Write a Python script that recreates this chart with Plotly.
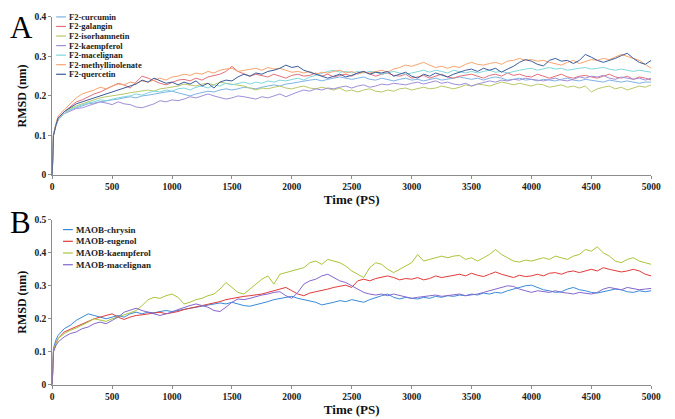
import plotly.graph_objects as go

time_ps = [0, 10, 30] + list(range(50, 5001, 50))

# ---------------- Panel A (F2) ----------------
a_names = ["F2-curcumin", "F2-galangin", "F2-isorhamnetin", "F2-kaempferol",
           "F2-macelignan", "F2-methyllinolenate", "F2-quercetin"]
a_colors = ["#7fb2e5", "#e0707a", "#b8c868", "#a08ed8", "#7fd6dc", "#f5a46e", "#3b5b9a"]

a_curcumin = [0.0, 0.10, 0.125,
    0.14, 0.155, 0.165, 0.17, 0.175, 0.18, 0.182, 0.185, 0.188, 0.19,
    0.192, 0.195, 0.198, 0.195, 0.2, 0.202, 0.205, 0.208, 0.21, 0.212,
    0.208, 0.205, 0.2, 0.205, 0.208, 0.212, 0.21, 0.215, 0.218, 0.215,
    0.218, 0.222, 0.22, 0.218, 0.222, 0.225, 0.228, 0.225, 0.23, 0.232,
    0.235, 0.238, 0.24, 0.242, 0.238, 0.242, 0.245, 0.248, 0.245, 0.242,
    0.245, 0.248, 0.242, 0.24, 0.245, 0.242, 0.238, 0.242, 0.245, 0.24,
    0.242, 0.238, 0.242, 0.245, 0.24, 0.242, 0.245, 0.248, 0.245, 0.242,
    0.245, 0.24, 0.245, 0.248, 0.245, 0.24, 0.242, 0.245, 0.24, 0.242,
    0.238, 0.242, 0.24, 0.238, 0.242, 0.245, 0.24, 0.238, 0.242, 0.24,
    0.238, 0.235, 0.24, 0.238, 0.235, 0.238, 0.235, 0.232, 0.235, 0.235]
a_galangin = [0.0, 0.10, 0.125,
    0.14, 0.16, 0.172, 0.185, 0.19, 0.198, 0.205, 0.21, 0.218, 0.225,
    0.232, 0.228, 0.22, 0.235, 0.25, 0.245, 0.238, 0.232, 0.228, 0.235,
    0.24, 0.242, 0.238, 0.245, 0.24, 0.248, 0.252, 0.255, 0.262, 0.275,
    0.262, 0.255, 0.25, 0.255, 0.252, 0.248, 0.255, 0.25, 0.245, 0.252,
    0.255, 0.25, 0.252, 0.258, 0.25, 0.255, 0.248, 0.252, 0.255, 0.25,
    0.258, 0.262, 0.255, 0.25, 0.255, 0.258, 0.252, 0.25, 0.255, 0.245,
    0.248, 0.252, 0.245, 0.25, 0.255, 0.248, 0.245, 0.25, 0.252, 0.255,
    0.25, 0.245, 0.252, 0.255, 0.25, 0.258, 0.252, 0.255, 0.25, 0.248,
    0.255, 0.25, 0.245, 0.25, 0.255, 0.248, 0.245, 0.25, 0.252, 0.248,
    0.245, 0.25, 0.255, 0.248, 0.245, 0.25, 0.242, 0.248, 0.245, 0.24]
a_isorhamnetin = [0.0, 0.10, 0.125,
    0.14, 0.155, 0.168, 0.175, 0.18, 0.185, 0.19, 0.195, 0.198, 0.2,
    0.202, 0.205, 0.208, 0.21, 0.212, 0.215, 0.212, 0.218, 0.22, 0.222,
    0.225, 0.23, 0.228, 0.225, 0.23, 0.232, 0.228, 0.235, 0.232, 0.23,
    0.228, 0.225, 0.22, 0.215, 0.22, 0.218, 0.222, 0.225, 0.22, 0.218,
    0.222, 0.225, 0.22, 0.218, 0.222, 0.218, 0.215, 0.22, 0.212, 0.215,
    0.21, 0.215, 0.218, 0.212, 0.21, 0.215, 0.212, 0.218, 0.22, 0.215,
    0.218, 0.222, 0.218, 0.22, 0.225, 0.222, 0.218, 0.222, 0.228, 0.225,
    0.23, 0.228, 0.225, 0.23, 0.235, 0.232, 0.228, 0.232, 0.228, 0.225,
    0.23, 0.228, 0.222, 0.225, 0.228, 0.222, 0.225, 0.22, 0.225, 0.21,
    0.218, 0.222, 0.225, 0.218, 0.222, 0.215, 0.22, 0.225, 0.222, 0.228]
a_kaempferol = [0.0, 0.10, 0.125,
    0.14, 0.155, 0.162, 0.168, 0.17, 0.175, 0.18, 0.185, 0.182, 0.178,
    0.185, 0.18, 0.178, 0.172, 0.17, 0.175, 0.18, 0.188, 0.185, 0.19,
    0.188, 0.192, 0.198, 0.195, 0.2, 0.205, 0.2, 0.195, 0.192, 0.195,
    0.2, 0.198, 0.195, 0.192, 0.198, 0.195, 0.2, 0.205, 0.198, 0.205,
    0.21, 0.215, 0.212, 0.218, 0.215, 0.22, 0.218, 0.222, 0.225, 0.22,
    0.225, 0.228, 0.222, 0.225, 0.23, 0.228, 0.232, 0.23, 0.228, 0.232,
    0.235, 0.23, 0.235, 0.238, 0.232, 0.235, 0.23, 0.228, 0.232, 0.225,
    0.23, 0.235, 0.238, 0.235, 0.24, 0.238, 0.242, 0.24, 0.245, 0.242,
    0.24, 0.238, 0.242, 0.245, 0.24, 0.238, 0.242, 0.248, 0.245, 0.25,
    0.248, 0.252, 0.245, 0.242, 0.248, 0.245, 0.242, 0.245, 0.24, 0.245]
a_macelignan = [0.0, 0.10, 0.125,
    0.14, 0.155, 0.165, 0.172, 0.178, 0.182, 0.185, 0.19, 0.188, 0.192,
    0.195, 0.198, 0.2, 0.205, 0.202, 0.208, 0.212, 0.21, 0.215, 0.212,
    0.218, 0.22, 0.215, 0.222, 0.225, 0.22, 0.228, 0.225, 0.232, 0.228,
    0.232, 0.235, 0.23, 0.235, 0.232, 0.238, 0.235, 0.24, 0.238, 0.242,
    0.245, 0.24, 0.248, 0.252, 0.258, 0.262, 0.265, 0.26, 0.262, 0.258,
    0.262, 0.258, 0.262, 0.26, 0.255, 0.258, 0.262, 0.258, 0.255, 0.258,
    0.262, 0.265, 0.26, 0.265, 0.262, 0.258, 0.265, 0.262, 0.258, 0.262,
    0.258, 0.262, 0.265, 0.26, 0.262, 0.258, 0.262, 0.265, 0.268, 0.27,
    0.265, 0.268, 0.272, 0.268, 0.27, 0.265, 0.268, 0.27, 0.272, 0.268,
    0.27, 0.272, 0.268, 0.265, 0.268, 0.265, 0.262, 0.265, 0.262, 0.26]
a_methyllinolenate = [0.0, 0.10, 0.13,
    0.15, 0.165, 0.18, 0.195, 0.205, 0.21, 0.215, 0.222, 0.218, 0.225,
    0.23, 0.228, 0.235, 0.232, 0.238, 0.235, 0.24, 0.245, 0.24, 0.248,
    0.25, 0.255, 0.252, 0.258, 0.255, 0.262, 0.258, 0.265, 0.268, 0.27,
    0.262, 0.265, 0.268, 0.27, 0.265, 0.272, 0.268, 0.27, 0.265, 0.26,
    0.262, 0.258, 0.262, 0.255, 0.26, 0.258, 0.262, 0.265, 0.258, 0.262,
    0.255, 0.26, 0.258, 0.262, 0.265, 0.26, 0.268, 0.272, 0.278, 0.275,
    0.28, 0.285, 0.278, 0.272, 0.275, 0.27, 0.275, 0.272, 0.28, 0.285,
    0.28, 0.278, 0.282, 0.285, 0.28, 0.288, 0.29, 0.295, 0.29, 0.292,
    0.288, 0.29, 0.285, 0.282, 0.278, 0.285, 0.29, 0.282, 0.288, 0.292,
    0.29, 0.295, 0.292, 0.298, 0.305, 0.3, 0.295, 0.29, 0.28, 0.27]
a_quercetin = [0.0, 0.10, 0.125,
    0.145, 0.16, 0.17, 0.18, 0.185, 0.19, 0.195, 0.2, 0.205, 0.21,
    0.215, 0.22, 0.225, 0.23, 0.24, 0.235, 0.245, 0.238, 0.232, 0.235,
    0.228, 0.235, 0.23, 0.238, 0.225, 0.232, 0.22, 0.235, 0.24, 0.238,
    0.248, 0.255, 0.25, 0.258, 0.255, 0.262, 0.265, 0.27, 0.278, 0.272,
    0.275, 0.265, 0.26, 0.255, 0.25, 0.245, 0.25, 0.255, 0.248, 0.252,
    0.258, 0.262, 0.255, 0.26, 0.258, 0.262, 0.25, 0.255, 0.26, 0.25,
    0.245, 0.255, 0.25, 0.258, 0.252, 0.248, 0.255, 0.26, 0.265, 0.268,
    0.262, 0.27, 0.265, 0.27, 0.26, 0.268, 0.275, 0.285, 0.292, 0.288,
    0.28, 0.276, 0.29, 0.295, 0.288, 0.29, 0.282, 0.29, 0.305, 0.298,
    0.29, 0.285, 0.29, 0.295, 0.302, 0.308, 0.295, 0.285, 0.28, 0.29]

a_series = [a_curcumin, a_galangin, a_isorhamnetin, a_kaempferol,
            a_macelignan, a_methyllinolenate, a_quercetin]

# ---------------- Panel B (MAOB) ----------------
b_names = ["MAOB-chrysin", "MAOB-eugenol", "MAOB-kaempferol", "MAOB-macelignan"]
b_colors = ["#3a8ad6", "#e03a3a", "#a8c43a", "#8466cc"]

b_chrysin = [0.0, 0.11, 0.135,
    0.15, 0.17, 0.18, 0.195, 0.205, 0.215, 0.21, 0.205, 0.2, 0.205,
    0.21, 0.205, 0.215, 0.22, 0.215, 0.22, 0.218, 0.222, 0.225, 0.222,
    0.225, 0.228, 0.232, 0.235, 0.238, 0.24, 0.245, 0.248, 0.245, 0.25,
    0.245, 0.24, 0.238, 0.242, 0.248, 0.252, 0.258, 0.262, 0.265, 0.268,
    0.262, 0.258, 0.255, 0.25, 0.242, 0.245, 0.25, 0.255, 0.252, 0.258,
    0.255, 0.25, 0.258, 0.265, 0.27, 0.275, 0.265, 0.26, 0.265, 0.262,
    0.26, 0.265, 0.262, 0.268, 0.265, 0.27, 0.268, 0.272, 0.27, 0.275,
    0.272, 0.278, 0.275, 0.28, 0.278, 0.285, 0.29, 0.295, 0.3, 0.302,
    0.295, 0.288, 0.285, 0.28, 0.282, 0.29, 0.295, 0.288, 0.285, 0.28,
    0.278, 0.282, 0.285, 0.29, 0.288, 0.282, 0.28, 0.285, 0.282, 0.285]
b_eugenol = [0.0, 0.10, 0.125,
    0.14, 0.16, 0.168, 0.175, 0.182, 0.19, 0.2, 0.205, 0.21, 0.215,
    0.205, 0.198, 0.205, 0.21, 0.212, 0.215, 0.218, 0.22, 0.215, 0.218,
    0.222, 0.228, 0.232, 0.235, 0.24, 0.245, 0.248, 0.252, 0.258, 0.262,
    0.265, 0.268, 0.27, 0.272, 0.275, 0.28, 0.285, 0.29, 0.295, 0.285,
    0.275, 0.27, 0.278, 0.282, 0.285, 0.29, 0.295, 0.298, 0.302, 0.295,
    0.315, 0.32, 0.315, 0.322, 0.325, 0.33, 0.325, 0.318, 0.322, 0.32,
    0.325, 0.318, 0.322, 0.33, 0.325, 0.328, 0.332, 0.335, 0.33, 0.338,
    0.332, 0.328, 0.335, 0.342, 0.335, 0.33, 0.325, 0.332, 0.328, 0.33,
    0.335, 0.33, 0.338, 0.34, 0.335, 0.342, 0.345, 0.34, 0.345, 0.35,
    0.345, 0.355, 0.35, 0.345, 0.342, 0.345, 0.35, 0.345, 0.335, 0.33]
b_kaempferol = [0.0, 0.10, 0.125,
    0.14, 0.155, 0.165, 0.172, 0.18, 0.19, 0.2, 0.195, 0.192, 0.2,
    0.205, 0.212, 0.218, 0.225, 0.24, 0.258, 0.265, 0.262, 0.27, 0.275,
    0.265, 0.245, 0.25, 0.258, 0.262, 0.27, 0.275, 0.29, 0.31, 0.295,
    0.28, 0.275, 0.29, 0.305, 0.32, 0.33, 0.305, 0.335, 0.34, 0.345,
    0.35, 0.355, 0.37, 0.375, 0.365, 0.38, 0.375, 0.37, 0.36, 0.345,
    0.335, 0.325, 0.355, 0.37, 0.365, 0.35, 0.34, 0.35, 0.36, 0.37,
    0.395, 0.375, 0.38, 0.385, 0.39, 0.385, 0.39, 0.392, 0.38, 0.385,
    0.375, 0.385, 0.395, 0.41, 0.395, 0.385, 0.375, 0.372, 0.378, 0.375,
    0.38, 0.385, 0.38, 0.39, 0.385, 0.38, 0.39, 0.395, 0.41, 0.405,
    0.418, 0.4, 0.39, 0.375, 0.37, 0.38, 0.385, 0.375, 0.37, 0.365]
b_macelignan = [0.0, 0.10, 0.118,
    0.13, 0.145, 0.155, 0.16, 0.17, 0.175, 0.185, 0.19, 0.185, 0.195,
    0.205, 0.22, 0.225, 0.232, 0.225, 0.22, 0.215, 0.21, 0.215, 0.22,
    0.228, 0.235, 0.24, 0.245, 0.24, 0.235, 0.225, 0.222, 0.235, 0.25,
    0.26, 0.258, 0.262, 0.268, 0.272, 0.275, 0.28, 0.282, 0.27, 0.262,
    0.28, 0.305, 0.315, 0.32, 0.33, 0.335, 0.325, 0.315, 0.31, 0.3,
    0.29, 0.28, 0.275, 0.272, 0.275, 0.27, 0.275, 0.27, 0.265, 0.262,
    0.265, 0.268, 0.27, 0.272, 0.268, 0.27, 0.272, 0.275, 0.27, 0.272,
    0.275, 0.28, 0.285, 0.29, 0.295, 0.3, 0.298, 0.29, 0.285, 0.28,
    0.285, 0.282, 0.28, 0.285, 0.28, 0.278, 0.275, 0.28, 0.278, 0.275,
    0.28, 0.29, 0.295, 0.292, 0.288, 0.295, 0.292, 0.288, 0.29, 0.292]

b_series = [b_chrysin, b_eugenol, b_kaempferol, b_macelignan]

x_ticks = [0, 500, 1000, 1500, 2000, 2500, 3000, 3500, 4000, 4500, 5000]
a_yticks = [0, 0.1, 0.2, 0.3, 0.4]
b_yticks = [0, 0.1, 0.2, 0.3, 0.4, 0.5]

# The page body keeps its default 8px margin, so the figure is laid out at (8, 8).
W, H = 667, 411
SERIF = "Liberation Serif, Times New Roman, serif"

fig = go.Figure()
for name, col, ys in zip(a_names, a_colors, a_series):
    fig.add_trace(go.Scatter(x=time_ps, y=ys, name=name, mode="lines",
                             line=dict(color=col, width=1), xaxis="x", yaxis="y",
                             showlegend=False))
for name, col, ys in zip(b_names, b_colors, b_series):
    fig.add_trace(go.Scatter(x=time_ps, y=ys, name=name, mode="lines",
                             line=dict(color=col, width=1), xaxis="x2", yaxis="y2",
                             showlegend=False))

xdom = [43 / W, 653 / W]
tickfont = dict(family=SERIF, size=9.5, color="#222")
axis_common = dict(showline=True, linecolor="#8c8c8c", linewidth=1, showgrid=False,
                   zeroline=False, ticks="outside", ticklen=3, tickcolor="#8c8c8c",
                   tickfont=tickfont)
title_x = dict(text="<b>Time (PS)</b>", standoff=1, font=dict(family=SERIF, size=13, color="#111"))
title_y = dict(text="<b>RMSD (nm)</b>", standoff=5, font=dict(family=SERIF, size=12, color="#111"))

fig.update_layout(
    width=W, height=H, margin=dict(l=0, r=0, t=0, b=0),
    paper_bgcolor="white", plot_bgcolor="white",
    xaxis=dict(domain=xdom, range=[0, 5000], tickvals=x_ticks, anchor="y",
               ticktext=[f"<b>{v}</b>" for v in x_ticks], title=title_x, **axis_common),
    yaxis=dict(domain=[1 - 166 / H, 1 - 4 / H], range=[0, 0.4], tickvals=a_yticks,
               ticktext=[f"<b>{v:g}</b>" for v in a_yticks], anchor="x",
               title=title_y, **axis_common),
    xaxis2=dict(domain=xdom, range=[0, 5000], tickvals=x_ticks, anchor="y2",
                ticktext=[f"<b>{v}</b>" for v in x_ticks], title=title_x, **axis_common),
    yaxis2=dict(domain=[1 - 381 / H, 1 - 212 / H], range=[0, 0.5], tickvals=b_yticks,
                ticktext=[f"<b>{v:g}</b>" for v in b_yticks], anchor="x2",
                title=title_y, **axis_common),
)

# panel letters
fig.add_annotation(text="A", x=-2 / W, y=1 + 5 / H, xref="paper", yref="paper",
                   xanchor="left", yanchor="top", showarrow=False,
                   font=dict(family=SERIF, size=31, color="#000"))
fig.add_annotation(text="B", x=-2 / W, y=1 - 195 / H, xref="paper", yref="paper",
                   xanchor="left", yanchor="top", showarrow=False,
                   font=dict(family=SERIF, size=31, color="#000"))

# custom compact legends
def add_legend(names, colors, x0, x1, xt, y0, dy, fsize):
    for i, (n, c) in enumerate(zip(names, colors)):
        yy = 1 - (y0 + i * dy) / H
        fig.add_shape(type="line", xref="paper", yref="paper", x0=x0 / W, x1=x1 / W,
                      y0=yy, y1=yy, line=dict(color=c, width=1.2))
        fig.add_annotation(text=f"<b>{n}</b>", x=xt / W, y=yy, xref="paper", yref="paper",
                           xanchor="left", yanchor="middle", showarrow=False,
                           font=dict(family=SERIF, size=fsize, color="#222"))

add_legend(a_names, a_colors, 47, 57, 58, 4, 9.8, 8.5)
add_legend(b_names, b_colors, 54, 64, 65, 222, 12, 9)

fig.write_html("out.html", config={"displayModeBar": False})
